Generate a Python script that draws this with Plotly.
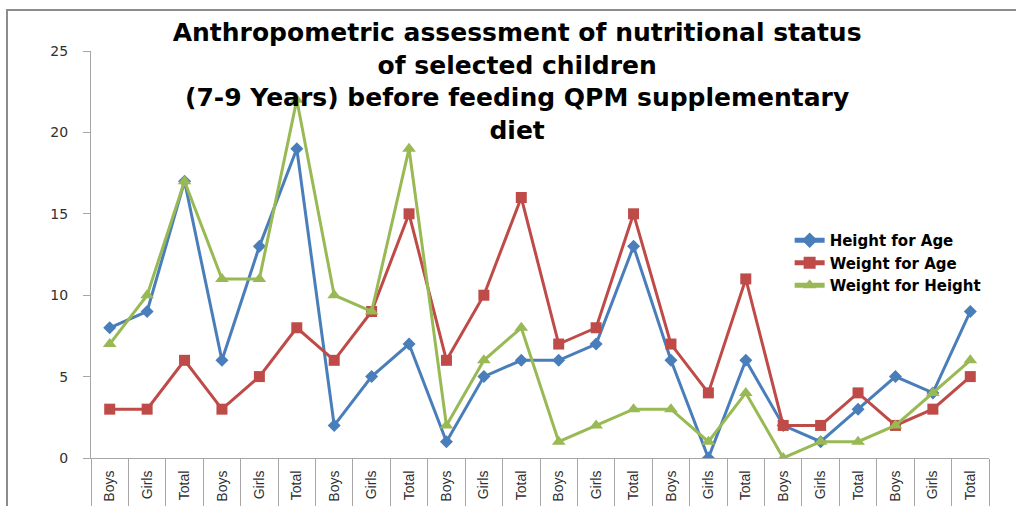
import plotly.graph_objects as go

categories = ["Boys", "Girls", "Total"] * 8
height_for_age = [8, 9, 17, 6, 13, 19, 2, 5, 7, 1, 5, 6, 6, 7, 13, 6, 0, 6, 2, 1, 3, 5, 4, 9]
weight_for_age = [3, 3, 6, 3, 5, 8, 6, 9, 15, 6, 10, 16, 7, 8, 15, 7, 4, 11, 2, 2, 4, 2, 3, 5]
weight_for_height = [7, 10, 17, 11, 11, 22, 10, 9, 19, 2, 6, 8, 1, 2, 3, 3, 1, 4, 0, 1, 1, 2, 4, 6]

xs = list(range(len(categories)))

fig = go.Figure()
fig.add_trace(go.Scatter(x=xs, y=height_for_age, name="Height for Age", mode="lines+markers",
                         line=dict(color="#4A7EBB", width=3),
                         marker=dict(symbol="diamond", size=10, color="#4A7EBB")))
fig.add_trace(go.Scatter(x=xs, y=weight_for_age, name="Weight for Age", mode="lines+markers",
                         line=dict(color="#BE4B48", width=3),
                         marker=dict(symbol="square", size=11, color="#BE4B48")))
fig.add_trace(go.Scatter(x=xs, y=weight_for_height, name="Weight for Height", mode="lines+markers",
                         line=dict(color="#98B954", width=3),
                         marker=dict(symbol="triangle-up", size=12, color="#98B954")))

fig.update_layout(
    width=1016, height=506,
    margin=dict(l=91, r=27, t=51, b=48),
    paper_bgcolor="white", plot_bgcolor="white",
    title=dict(
        text="Anthropometric assessment of nutritional status<br>of selected children<br>(7-9 Years) before feeding QPM supplementary<br>diet",
        font=dict(family="DejaVu Sans", size=25, color="black", weight="bold"),
        x=0.509, xanchor="center", xref="container",
        y=0.918, yanchor="top", yref="container",
    ),
    legend=dict(x=0.778, y=0.575, xanchor="left", yanchor="top",
                font=dict(family="DejaVu Sans", size=15, color="black", weight="bold"),
                bgcolor="rgba(0,0,0,0)", tracegroupgap=0, itemsizing="constant"),
    showlegend=True,
    xaxis=dict(
        range=[-0.5, len(categories) - 0.5],
        tickmode="array", tickvals=xs, ticktext=categories,
        tickangle=-90, ticks="", ticklabelstandoff=6, automargin=False,
        tickfont=dict(family="Liberation Sans Narrow, Liberation Sans", size=14, color="#303030"),
        showgrid=False, zeroline=False,
        showline=True, linecolor="#A6A6A6", linewidth=1,
        minor=dict(ticks="outside", ticklen=50, tick0=0.5, dtick=1, tickcolor="#A6A6A6", tickwidth=1, showgrid=False),
    ),
    yaxis=dict(
        range=[0, 25], dtick=5, tick0=0, automargin=False,
        showgrid=False, zeroline=False,
        showline=True, linecolor="#A6A6A6", linewidth=1,
        ticks="outside", ticklen=7, tickcolor="#A6A6A6",
        ticklabelstandoff=12,
        tickfont=dict(family="DejaVu Sans", size=14, color="#303030"),
    ),
    shapes=[dict(type="rect", xref="paper", yref="paper",
                 x0=(7 - 91) / 898, x1=1.5, y0=-0.5, y1=(458 - 10) / 407,
                 line=dict(color="#8C8C8C", width=2), fillcolor="rgba(0,0,0,0)", layer="below")],
)

fig.write_html("out.html", config={"displayModeBar": False},
               post_script="document.body.style.margin='0';document.body.style.overflow='hidden';")
